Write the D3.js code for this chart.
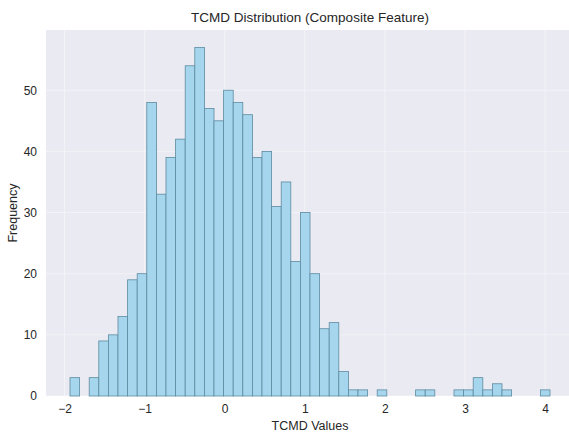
<!DOCTYPE html>
<html>
<head>
<meta charset="utf-8">
<script src="https://cdn.jsdelivr.net/npm/d3@7"></script>
<style>
  html, body { margin: 0; padding: 0; background: #ffffff; }
  svg { display: block; }
  text { font-family: "Liberation Sans", Arial, "DejaVu Sans", sans-serif; fill: #262626; }
</style>
</head>
<body>
<svg id="chart" width="569" height="435"></svg>
<script>
// Histogram of the composite TCMD feature: 50 equal-width bins
const binMin = -1.931;
const binMax = 4.061;
const counts = [
  3, 0, 3, 9, 10, 13, 19, 20, 48, 33,
  39, 42, 54, 57, 47, 45, 50, 48, 46, 39,
  40, 31, 35, 22, 30, 20, 11, 12, 4, 1,
  1, 0, 1, 0, 0, 0, 1, 1, 0, 0,
  1, 1, 3, 1, 2, 1, 0, 0, 0, 1
];
const xTicks = [-2, -1, 0, 1, 2, 3, 4];
const yTicks = [0, 10, 20, 30, 40, 50];

const titleText = "TCMD Distribution (Composite Feature)";
const xLabel = "TCMD Values";
const yLabel = "Frequency";

const svg = d3.select("#chart");
const plot = { left: 46, top: 30, right: 574, bottom: 396 };

const binWidth = (binMax - binMin) / counts.length;
const bins = counts.map((c, i) => ({
  x0: binMin + i * binWidth,
  x1: binMin + (i + 1) * binWidth,
  count: c
}));

// 5% padding on the x range, 5% headroom on y
const pad = (binMax - binMin) * 0.05;
const x = d3.scaleLinear()
  .domain([binMin - pad, binMax + pad])
  .range([plot.left, plot.right]);
const y = d3.scaleLinear()
  .domain([0, d3.max(counts) * 1.05])
  .range([plot.bottom, plot.top]);

// axes background
svg.append("rect")
  .attr("x", plot.left).attr("y", plot.top)
  .attr("width", plot.right - plot.left)
  .attr("height", plot.bottom - plot.top)
  .attr("fill", "#eaeaf2");

// grid lines
const grid = svg.append("g");
grid.selectAll("line.v").data(xTicks).join("line")
  .attr("x1", d => x(d)).attr("x2", d => x(d))
  .attr("y1", plot.top).attr("y2", plot.bottom)
  .attr("stroke", "#ffffff").attr("stroke-width", 1).attr("opacity", 0.4);
grid.selectAll("line.h").data(yTicks).join("line")
  .attr("x1", plot.left).attr("x2", plot.right)
  .attr("y1", d => y(d)).attr("y2", d => y(d))
  .attr("stroke", "#ffffff").attr("stroke-width", 1).attr("opacity", 0.4);

// bars
svg.append("g").selectAll("rect").data(bins.filter(b => b.count > 0)).join("rect")
  .attr("x", d => x(d.x0))
  .attr("y", d => y(d.count))
  .attr("width", d => x(d.x1) - x(d.x0))
  .attr("height", d => y(0) - y(d.count))
  .attr("fill", "#a6d6ed")
  .attr("stroke", "#5d8aa0")
  .attr("stroke-width", 0.8);

// x axis
const xAxis = d3.axisBottom(x).tickValues(xTicks).tickSize(0).tickPadding(8)
  .tickFormat(d => d < 0 ? "\u2212" + Math.abs(d) : d);
const gx = svg.append("g").attr("transform", `translate(0,${plot.bottom})`).call(xAxis);
gx.select(".domain").remove();
gx.selectAll("text").attr("font-size", 12).style("fill", "#262626");

// y axis
const yAxis = d3.axisLeft(y).tickValues(yTicks).tickSize(0).tickPadding(9);
const gy = svg.append("g").attr("transform", `translate(${plot.left},0)`).call(yAxis);
gy.select(".domain").remove();
gy.selectAll("text").attr("font-size", 12).style("fill", "#262626");

// title and axis labels
svg.append("text")
  .attr("x", (plot.left + plot.right) / 2).attr("y", 22)
  .attr("text-anchor", "middle").attr("font-size", 13.5)
  .text(titleText);
svg.append("text")
  .attr("x", (plot.left + plot.right) / 2).attr("y", 430)
  .attr("text-anchor", "middle").attr("font-size", 12.5)
  .text(xLabel);
svg.append("text")
  .attr("transform", `translate(17,${(plot.top + plot.bottom) / 2}) rotate(-90)`)
  .attr("text-anchor", "middle").attr("font-size", 12.5)
  .text(yLabel);
</script>
</body>
</html>
